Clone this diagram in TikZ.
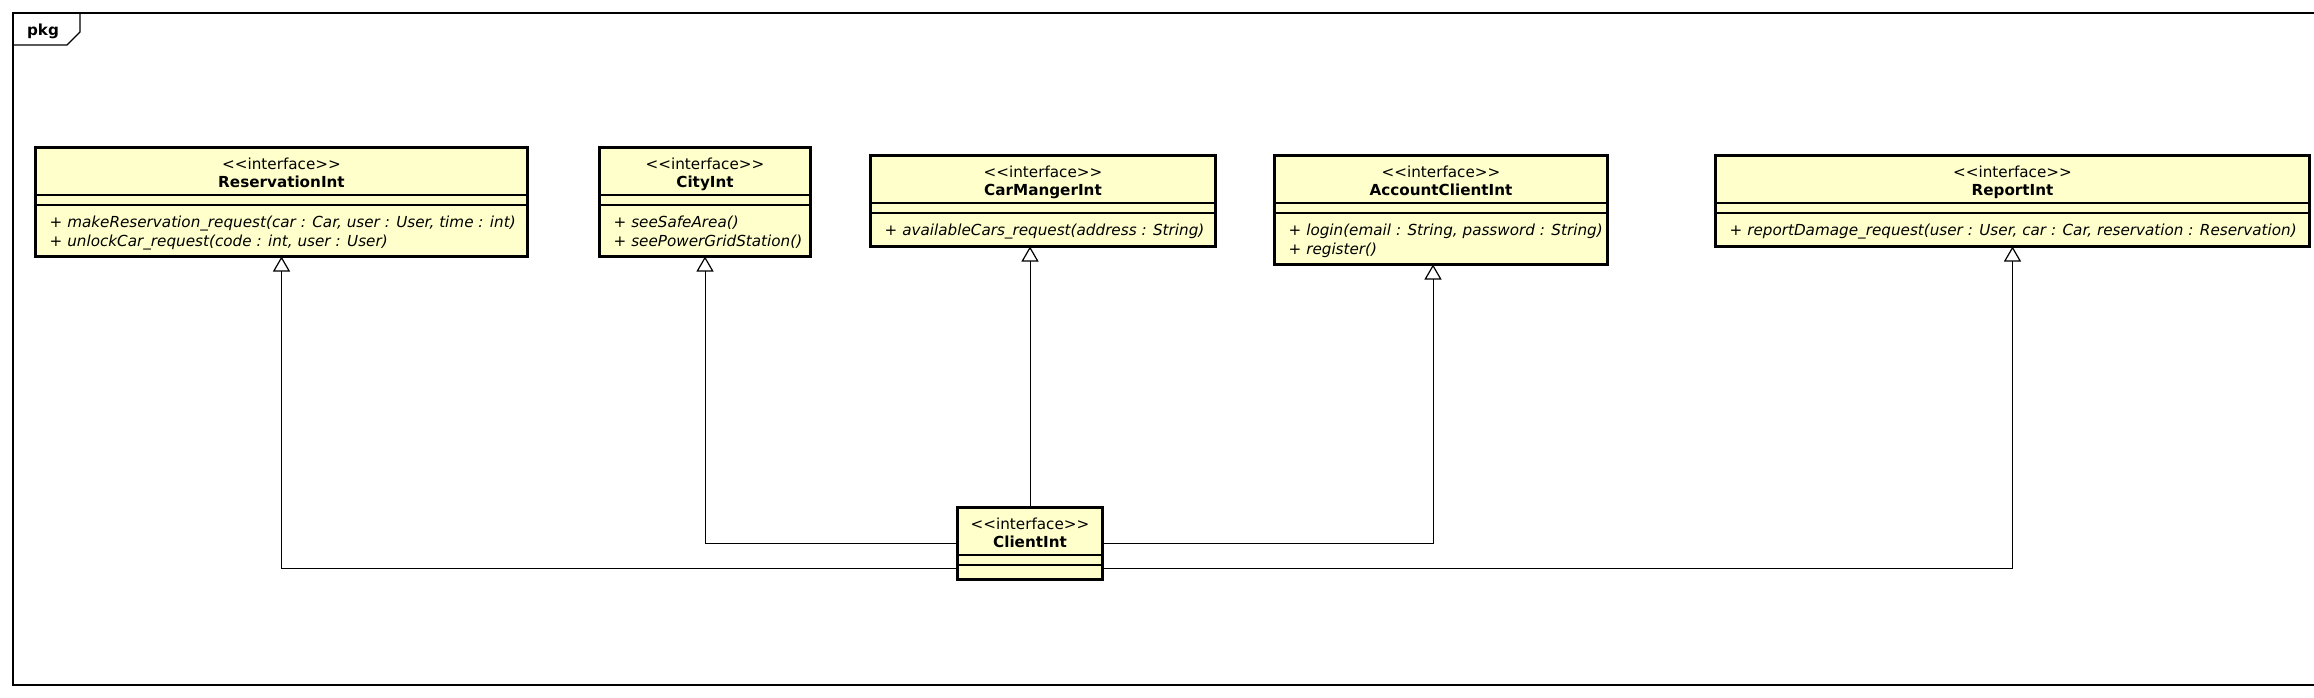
\documentclass[tikz,border=0pt]{standalone}
\usepackage{fontspec}
\setmainfont{DejaVu Sans}
\usetikzlibrary{arrows.meta}
\definecolor{ifaceyellow}{RGB}{255,255,204}

\tikzset{
  iface/.style={draw=black, line width=3pt, fill=ifaceyellow, anchor=north west, inner sep=0pt, outer sep=0pt},
  stereo/.style={anchor=base, inner sep=0pt},
  clsname/.style={anchor=base, inner sep=0pt, font=\fontsize{15.2}{19}\selectfont\bfseries},
  oper/.style={anchor=base west, inner sep=0pt, font=\fontsize{15.2}{19}\selectfont\itshape},
  divider/.style={draw=black, line width=1.2pt},
  realize/.style={draw=black, line width=1pt, -{Triangle[open, length=15pt, width=17pt, line width=1.2pt]}},
}

\begin{document}
\begin{tikzpicture}[x=1pt,y=-1pt,font=\fontsize{15.2}{19}\selectfont]
\useasboundingbox (0,0) rectangle (2314,698);
\clip (0,0) rectangle (2314,698);
% package frame
\draw[line width=1.4pt] (13,13) rectangle (2340,685);
\draw[line width=1.4pt] (13,45) -- (67,45) -- (80,32) -- (80,13);
\node[anchor=base, inner sep=0pt, font=\fontsize{15.2}{19}\selectfont\bfseries] (pkg) at (43,36) {pkg};

% ReservationInt
\node[iface, minimum width=492pt, minimum height=109pt] (resv) at (35.5,147.5) {};
\node[stereo] (resvst) at ([yshift=-21.5pt]resv.north) {<\kern0pt<interface>\kern0pt>};
\node[clsname] (resvnm) at ([yshift=-39.5pt]resv.north) {ReservationInt};
\draw[divider] ([yshift=-47.5pt]resv.north west) -- ([yshift=-47.5pt]resv.north east);
\draw[divider] ([yshift=-57.5pt]resv.north west) -- ([yshift=-57.5pt]resv.north east);
\node[oper] (resvop1) at ([xshift=14pt,yshift=-79.5pt]resv.north west) {+ makeReservation\_request(car : Car, user : User, time : int)};
\node[oper] (resvop2) at ([xshift=14pt,yshift=-98.5pt]resv.north west) {+ unlockCar\_request(code : int, user : User)};

% CityInt
\node[iface, minimum width=211pt, minimum height=109pt] (city) at (599.5,147.5) {};
\node[stereo] (cityst) at ([yshift=-21.5pt]city.north) {<\kern0pt<interface>\kern0pt>};
\node[clsname] (citynm) at ([yshift=-39.5pt]city.north) {CityInt};
\draw[divider] ([yshift=-47.5pt]city.north west) -- ([yshift=-47.5pt]city.north east);
\draw[divider] ([yshift=-57.5pt]city.north west) -- ([yshift=-57.5pt]city.north east);
\node[oper] (cityop1) at ([xshift=14pt,yshift=-79.5pt]city.north west) {+ seeSafeArea()};
\node[oper] (cityop2) at ([xshift=14pt,yshift=-98.5pt]city.north west) {+ seePowerGridStation()};

% CarMangerInt
\node[iface, minimum width=345pt, minimum height=91pt] (carm) at (870.5,155.5) {};
\node[stereo] (carmst) at ([yshift=-21.5pt]carm.north) {<\kern0pt<interface>\kern0pt>};
\node[clsname] (carmnm) at ([yshift=-39.5pt]carm.north) {CarMangerInt};
\draw[divider] ([yshift=-47.5pt]carm.north west) -- ([yshift=-47.5pt]carm.north east);
\draw[divider] ([yshift=-57.5pt]carm.north west) -- ([yshift=-57.5pt]carm.north east);
\node[oper] (carmop1) at ([xshift=14pt,yshift=-79.5pt]carm.north west) {+ availableCars\_request(address : String)};

% AccountClientInt
\node[iface, minimum width=333pt, minimum height=109pt] (acct) at (1274.5,155.5) {};
\node[stereo] (acctst) at ([yshift=-21.5pt]acct.north) {<\kern0pt<interface>\kern0pt>};
\node[clsname] (acctnm) at ([yshift=-39.5pt]acct.north) {AccountClientInt};
\draw[divider] ([yshift=-47.5pt]acct.north west) -- ([yshift=-47.5pt]acct.north east);
\draw[divider] ([yshift=-57.5pt]acct.north west) -- ([yshift=-57.5pt]acct.north east);
\node[oper] (acctop1) at ([xshift=14pt,yshift=-79.5pt]acct.north west) {+ login(email : String, password : String)};
\node[oper] (acctop2) at ([xshift=14pt,yshift=-98.5pt]acct.north west) {+ register()};

% ReportInt
\node[iface, minimum width=594pt, minimum height=91pt] (rept) at (1715.5,155.5) {};
\node[stereo] (reptst) at ([yshift=-21.5pt]rept.north) {<\kern0pt<interface>\kern0pt>};
\node[clsname] (reptnm) at ([yshift=-39.5pt]rept.north) {ReportInt};
\draw[divider] ([yshift=-47.5pt]rept.north west) -- ([yshift=-47.5pt]rept.north east);
\draw[divider] ([yshift=-57.5pt]rept.north west) -- ([yshift=-57.5pt]rept.north east);
\node[oper] (reptop1) at ([xshift=14pt,yshift=-79.5pt]rept.north west) {+ reportDamage\_request(user : User, car : Car, reservation : Reservation)};

% ClientInt
\node[iface, minimum width=145pt, minimum height=72pt] (client) at (957.5,507.5) {};
\node[stereo] (clientst) at ([yshift=-21.5pt]client.north) {<\kern0pt<interface>\kern0pt>};
\node[clsname] (clientnm) at ([yshift=-39.5pt]client.north) {ClientInt};
\draw[divider] ([yshift=-47.5pt]client.north west) -- ([yshift=-47.5pt]client.north east);
\draw[divider] ([yshift=-57.5pt]client.north west) -- ([yshift=-57.5pt]client.north east);

% realizations
\draw[realize] (client.north) -- (client.north |- carm.south);
\draw[realize] (client.west) -| (city.south);
\draw[realize] (client.east) -| ([xshift=-8pt]acct.south);
\draw[realize] ([yshift=-25pt]client.west) -| (resv.south);
\draw[realize] ([yshift=-25pt]client.east) -| (rept.south);
\end{tikzpicture}
\end{document}
